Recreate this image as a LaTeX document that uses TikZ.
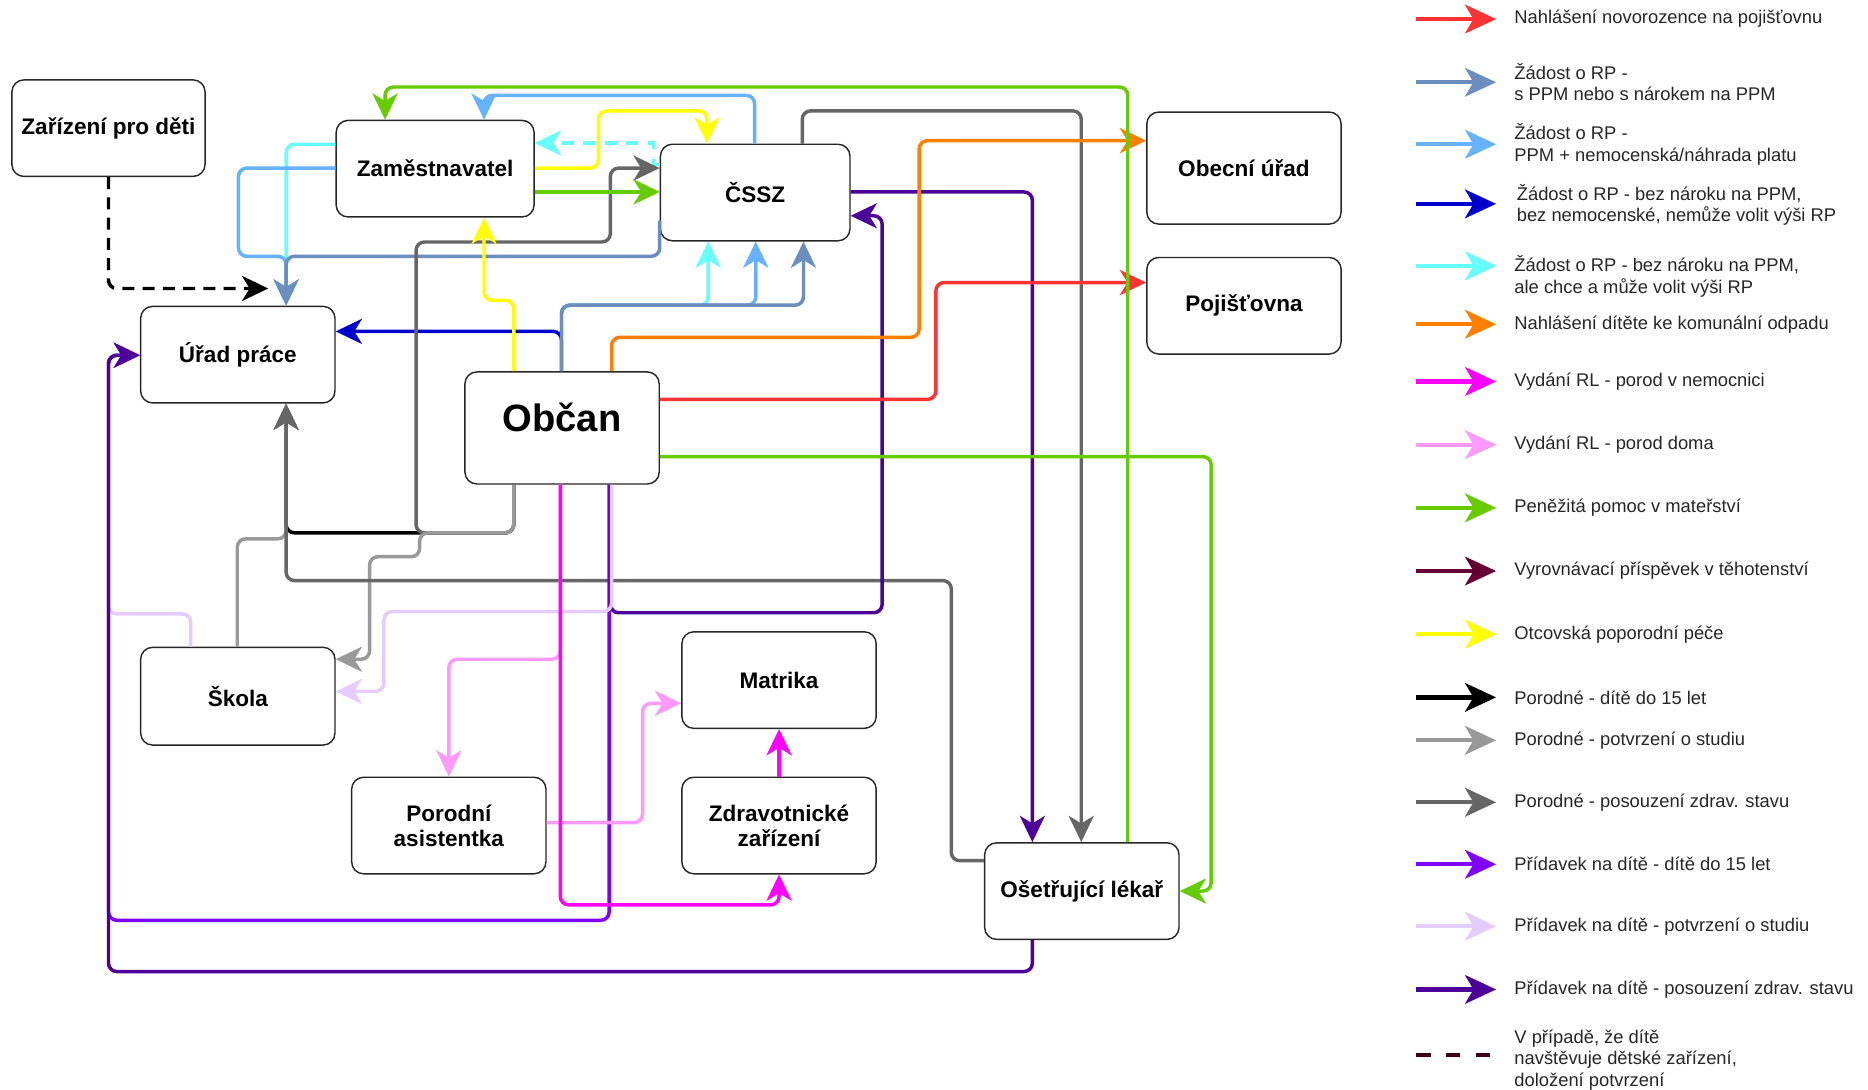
\documentclass[tikz,border=0pt]{standalone}
\usepackage{fontspec}
\setmainfont{Liberation Sans}
\usetikzlibrary{arrows.meta}
\definecolor{cRed}{HTML}{FF3333}
\definecolor{cSteel}{HTML}{6C8EBF}
\definecolor{cLBlue}{HTML}{66B2FF}
\definecolor{cDBlue}{HTML}{0000CC}
\definecolor{cCyan}{HTML}{66FFFF}
\definecolor{cOrange}{HTML}{FF8000}
\definecolor{cMag}{HTML}{FF00FF}
\definecolor{cPink}{HTML}{FF99FF}
\definecolor{cGreen}{HTML}{66CC00}
\definecolor{cMaroon}{HTML}{660033}
\definecolor{cDMaroon}{HTML}{3D0014}
\definecolor{cYellow}{HTML}{FFFF00}
\definecolor{cGray}{HTML}{999999}
\definecolor{cDGray}{HTML}{666666}
\definecolor{cPurple}{HTML}{7F00FF}
\definecolor{cLav}{HTML}{E5CCFF}
\definecolor{cDPurple}{HTML}{4C0099}
\begin{document}
\begin{tikzpicture}[x=0.5pt,y=-0.5pt,
  box/.style={draw=black!85, line width=0.6pt, rounded corners=5pt, fill=white, align=center, inner sep=2pt,
    minimum width=81.5pt, minimum height=40.5pt, font=\fontsize{9.45}{10.5}\selectfont\bfseries},
  ln/.style={line width=1.45pt, rounded corners=3.5pt, -{Stealth[length=11pt,width=10.5pt,inset=3.2pt]}},
  lg/.style={line width=1.8pt, -{Stealth[length=13pt,width=12pt,inset=3.5pt]}},
  lgtext/.style={anchor=west, align=left, inner sep=0pt, font=\fontsize{7.7}{9}\selectfont, text=black!85},
]
\fill[white] (0,0) rectangle (1567,914.3);
\useasboundingbox (0,0) rectangle (1567,914.3);

% nodes
\node[box, minimum width=81pt] (zar) at (91,107.5) {Zařízení pro děti};
\node[box, minimum width=83pt] (zam) at (365,141.5) {Zaměstnavatel};
\node[box, minimum width=79.5pt] (cssz) at (633.5,161.5) {ČSSZ};
\node[box, minimum height=47pt] (obec) at (1043.5,141) {Obecní úřad};
\node[box] (poj) at (1043.5,256.5) {Pojišťovna};
\node[box] (up) at (199.5,297.5) {Úřad práce};
\node[box, minimum height=47pt, font=\fontsize{16}{18}\selectfont\bfseries] (obcan) at (471.5,359) {\raisebox{4.5pt}[\height][\depth]{Občan}};
\node[box, minimum height=41pt] (skola) at (199.5,584) {Škola};
\node[box] (matrika) at (653.5,570.5) {Matrika};
\node[box] (porodni) at (376.5,692.5) {Porodní\\asistentka};
\node[box] (zdrav) at (653.5,692.5) {Zdravotnické\\zařízení};
\node[box] (lekar) at (907.5,747.5) {Ošetřující lékař};

% black dashed
\coordinate (dashend) at (225,242);
\draw[ln, black, dash pattern=on 5pt off 3.5pt] (zar.south) -- (91,242) -- (dashend);

% cyan
\draw[ln, cCyan, dash pattern=on 5pt off 4pt, rounded corners=0pt] (cssz.west |- 0,138) -- (548,138) -- (548,120) -- (zam.east |- 0,120);
\draw[ln, cCyan] (zam.west |- 0,121) -- (240,121) -- (up.north -| 240,0);
\draw[ln, cCyan] (obcan.north -| 471,0) -- (471,256) -- (594,256) -- (cssz.south -| 594,0);
% light blue
\draw[ln, cLBlue] (cssz.north -| 633,0) -- (633,80) -- (406,80) -- (zam.north -| 406,0);
\draw[ln, cLBlue] (zam.west |- 0,141) -- (200,141) -- (200,215) -- (240,215) -- (up.north -| 240,0);
\draw[ln, cLBlue] (obcan.north -| 471,0) -- (471,256) -- (634,256) -- (cssz.south -| 634,0);
% dark blue
\draw[ln, cDBlue] (obcan.north -| 471,0) -- (471,278) -- (up.east |- 0,278);
% steel blue
\draw[ln, cSteel] (cssz.west |- 0,185) -- (cssz.west |- 0,215) -- (240,215) -- (up.north -| 240,0);
\draw[ln, cSteel] (obcan.north -| 471,0) -- (471,256) -- (674,256) -- (cssz.south -| 674,0);

% black / grays
\draw[ln, black] (obcan.south -| 431,0) -- (431,447) -- (240,447) -- (up.south -| 240,0);
\draw[ln, cDGray] (obcan.south -| 431,0) -- (431,447) -- (349,447) -- (349,203) -- (512,203) -- (512,141) -- (cssz.west |- 0,141);
\draw[ln, cGray] (skola.north -| 199,0) -- (199,452) -- (240,452) -- (up.south -| 240,0);
\draw[ln, cGray] (obcan.south -| 431,0) -- (431,447) -- (352,447) -- (352,467) -- (310,467) -- (310,553) -- (skola.east |- 0,553);
\draw[ln, cDGray] (lekar.west |- 0,722) -- (798,722) -- (798,487) -- (240,487) -- (up.south -| 240,0);
\draw[ln, cDGray] (cssz.north -| 673,0) -- (673,93) -- (907,93) -- (lekar.north -| 907,0);

% purples
\draw[ln, cLav] (skola.north -| 160,0) -- (160,515) -- (91,515) -- (91,298) -- (up.west |- 0,298);
\draw[ln, cPurple] (obcan.south -| 511,0) -- (511,772) -- (91,772) -- (91,298) -- (up.west |- 0,298);
\draw[ln, cDPurple] (lekar.south -| 866,0) -- (866,815) -- (91,815) -- (91,298) -- (up.west |- 0,298);
\draw[ln, cDPurple] (cssz.east |- 0,161) -- (866,161) -- (lekar.north -| 866,0);
\draw[ln, cDPurple] (obcan.south -| 512,0) -- (512,514) -- (740,514) -- (740,181) -- (cssz.east |- 0,181);
\draw[ln, cLav] (obcan.south -| 513,0) -- (513,513) -- (322,513) -- (322,580) -- (skola.east |- 0,580);

% pink / magenta
\draw[ln, cPink] (obcan.south -| 470,0) -- (470,553) -- (376.5,553) -- (porodni.north);
\draw[ln, cPink] (porodni.east |- 0,690) -- (539,690) -- (539,590) -- (matrika.west |- 0,590);
\draw[ln, cMag] (obcan.south -| 470,0) -- (470,759) -- (653.5,759) -- (zdrav.south);
\draw[ln, cMag] (zdrav.north) -- (matrika.south);

% yellow
\draw[ln, cYellow] (obcan.north -| 431,0) -- (431,252) -- (406,252) -- (zam.south -| 406,0);
\draw[ln, cYellow] (zam.east |- 0,141) -- (502,141) -- (502,93) -- (593,93) -- (cssz.north -| 593,0);

% orange / red
\draw[ln, cOrange] (obcan.north -| 513,0) -- (513,283) -- (771,283) -- (771,118) -- (obec.west |- 0,118);
\draw[ln, cRed] (obcan.east |- 0,335) -- (785,335) -- (785,237) -- (poj.west |- 0,237);

% green
\draw[ln, cGreen] (zam.east |- 0,161) -- (cssz.west |- 0,161);
\draw[ln, cGreen] (lekar.north -| 946,0) -- (946,73) -- (323,73) -- (zam.north -| 323,0);
\draw[ln, cGreen] (obcan.east |- 0,383) -- (1016,383) -- (1016,747.5) -- (lekar.east);

% legend
\draw[lg, cRed] (1188,16) -- (1255,16);
\node[lgtext] (l1) at (1270,16) {Nahlášení novorozence na pojišťovnu};
\draw[lg, cSteel] (1188,69) -- (1255,69);
\node[lgtext] (l2) at (1270,69) {Žádost o RP -\\s PPM nebo s nárokem na PPM};
\draw[lg, cLBlue] (1188,121) -- (1255,121);
\node[lgtext] (l3) at (1270,121) {Žádost o RP -\\PPM + nemocenská/náhrada platu};
\draw[lg, cDBlue] (1188,171) -- (1255,171);
\node[lgtext] (l4) at (1272,172) {Žádost o RP - bez nároku na PPM,\\bez nemocenské, nemůže volit výši RP};
\draw[lg, cCyan] (1188,223) -- (1255,223);
\node[lgtext] (l5) at (1270,232) {Žádost o RP - bez nároku na PPM,\\ale chce a může volit výši RP};
\draw[lg, cOrange] (1188,272) -- (1255,272);
\node[lgtext] (l6) at (1270,272) {Nahlášení dítěte ke komunální odpadu};
\draw[lg, cMag] (1188,320) -- (1255,320);
\node[lgtext] (l7) at (1270,320) {Vydání RL - porod v nemocnici};
\draw[lg, cPink] (1188,373) -- (1255,373);
\node[lgtext] (l8) at (1270,373) {Vydání RL - porod doma};
\draw[lg, cGreen] (1188,426) -- (1255,426);
\node[lgtext] (l9) at (1270,426) {Peněžitá pomoc v mateřství};
\draw[lg, cMaroon] (1188,479) -- (1255,479);
\node[lgtext] (l10) at (1270,479) {Vyrovnávací příspěvek v těhotenství};
\draw[lg, cYellow] (1188,532) -- (1255,532);
\node[lgtext] (l11) at (1270,532) {Otcovská poporodní péče};
\draw[lg, black] (1188,585) -- (1255,585);
\node[lgtext] (l12) at (1270,585) {Porodné - dítě do 15 let};
\draw[lg, cGray] (1188,621) -- (1255,621);
\node[lgtext] (l13) at (1270,621) {Porodné - potvrzení o studiu};
\draw[lg, cDGray] (1188,673) -- (1255,673);
\node[lgtext] (l14) at (1270,673) {Porodné - posouzení zdrav. stavu};
\draw[lg, cPurple] (1188,725) -- (1255,725);
\node[lgtext] (l15) at (1270,725) {Přídavek na dítě - dítě do 15 let};
\draw[lg, cLav] (1188,777) -- (1255,777);
\node[lgtext] (l16) at (1270,777) {Přídavek na dítě - potvrzení o studiu};
\draw[lg, cDPurple] (1188,830) -- (1255,830);
\node[lgtext] (l17) at (1270,830) {Přídavek na dítě - posouzení zdrav. stavu};
\draw[line width=1.8pt, cDMaroon, dash pattern=on 6pt off 6.5pt] (1188,885) -- (1250,885);
\node[lgtext] (l18) at (1270,889) {V případě, že dítě\\navštěvuje dětské zařízení,\\doložení potvrzení};
\end{tikzpicture}
\end{document}
